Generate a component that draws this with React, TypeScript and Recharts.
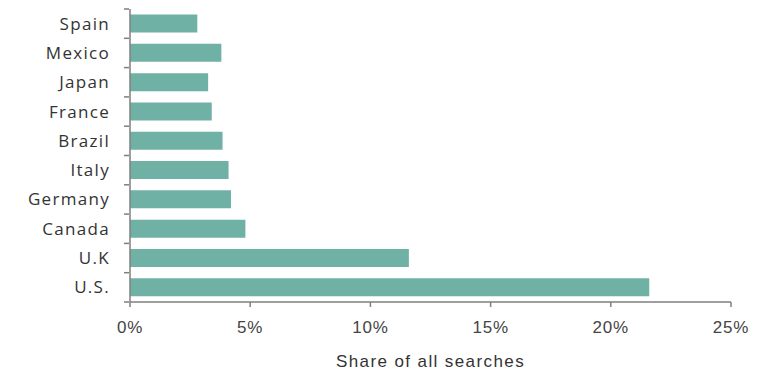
import { BarChart, Bar, XAxis, YAxis } from "recharts";

const countries = ["Spain", "Mexico", "Japan", "France", "Brazil", "Italy", "Germany", "Canada", "U.K", "U.S."];
const shares = [2.8, 3.8, 3.25, 3.4, 3.85, 4.1, 4.2, 4.8, 11.6, 21.6];
const xTicks = [0, 5, 10, 15, 20, 25];

const data = countries.map((c, i) => ({ country: c, share: shares[i] }));

const W = 774;
const H = 374;
const TOP = 9;
const BOTTOM_AXIS = 72;
const band = (H - TOP - BOTTOM_AXIS) / countries.length;

function CountryTick(props: any) {
    const { x, y, payload, index } = props;
    const half = band / 2;
    return (
        <g>
            <line x1={x + 14} x2={x + 19} y1={y - half} y2={y - half} stroke="#7f7f7f" strokeWidth={1.5} />
            {index === countries.length - 1 && (
                <line x1={x + 14} x2={x + 19} y1={y + half} y2={y + half} stroke="#7f7f7f" strokeWidth={1.5} />
            )}
            <text
                x={x}
                y={y}
                dy={6}
                textAnchor="end"
                fill="#333"
                fontSize={17}
                letterSpacing={1.3}
                fontFamily="'Open Sans', sans-serif"
            >
                {payload.value}
            </text>
        </g>
    );
}

export default function App() {
    return (
        <div style={{ position: "absolute", left: 0, top: 0, width: W, height: H, background: "#fff" }}>
            <BarChart
                width={W}
                height={H}
                data={data}
                layout="vertical"
                margin={{ top: TOP, right: 43, left: 0, bottom: 0 }}
                barCategoryGap="19%"
            >
                <XAxis
                    type="number"
                    domain={[0, 25]}
                    ticks={xTicks}
                    tickFormatter={(v: number) => `${v}%`}
                    height={BOTTOM_AXIS}
                    axisLine={{ stroke: "#7f7f7f", strokeWidth: 1.5 }}
                    tickLine={{ stroke: "#7f7f7f", strokeWidth: 1.5 }}
                    tickSize={5}
                    tickMargin={14}
                    tick={{ fill: "#444", fontSize: 17, letterSpacing: 0.8, fontFamily: "'Liberation Sans', sans-serif" }}
                    label={{
                        value: "Share of all searches",
                        position: "insideBottom",
                        offset: 7,
                        fill: "#333",
                        fontSize: 17,
                        letterSpacing: 1.4,
                        fontFamily: "'Liberation Sans', sans-serif",
                    }}
                />
                <YAxis
                    type="category"
                    dataKey="country"
                    width={130}
                    axisLine={{ stroke: "#7f7f7f", strokeWidth: 1.5 }}
                    tickLine={false}
                    tickMargin={14}
                    tick={<CountryTick />}
                    interval={0}
                />
                <Bar dataKey="share" fill="#70b1a5" isAnimationActive={false} />
            </BarChart>
        </div>
    );
}
